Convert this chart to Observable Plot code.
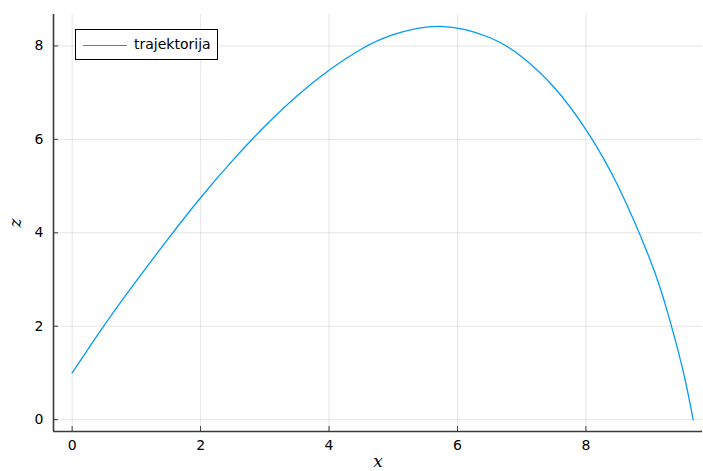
<!DOCTYPE html>
<html>
<head>
<meta charset="utf-8">
<script src="https://cdn.jsdelivr.net/npm/d3@7"></script>
<script src="https://cdn.jsdelivr.net/npm/@observablehq/plot@0.6"></script>
<style>
  html, body { margin: 0; padding: 0; background: #fff; }
  #wrap { position: relative; width: 703px; height: 471px; font-family: "DejaVu Sans", sans-serif; }
  #wrap svg text { font-family: "DejaVu Sans", sans-serif; }
  #legend {
    position: absolute; left: 75px; top: 29px; width: 141px; height: 29px;
    border: 1.2px solid #000; background: #fff; box-sizing: content-box;
  }
  #legend .swatch { position: absolute; left: 7px; top: 15px; width: 44px; height: 0; border-top: 1.5px solid #009AFA; }
  #legend .lbl { position: absolute; left: 58px; top: 5px; font-size: 14px; color: #000; line-height: 18px; }
</style>
</head>
<body>
<div id="wrap"></div>
<script>
// Trajectory data
const xs = [0, 0.5, 1.0, 1.5, 2.0, 2.5, 3.0, 3.5, 4.0, 4.5, 5.0, 5.74, 6.5, 7.0, 7.5, 8.0, 8.5, 9.0, 9.25, 9.5, 9.67];
const zs = [1, 2.02, 2.97, 3.88, 4.75, 5.55, 6.28, 6.93, 7.48, 7.93, 8.24, 8.42, 8.18, 7.77, 7.12, 6.21, 5.0, 3.42, 2.40, 1.12, 0];
const xTicks = [0, 2, 4, 6, 8];
const yTicks = [0, 2, 4, 6, 8];
const seriesName = "trajektorija";
const xLabel = "x";
const yLabel = "z";

const data = xs.map((x, i) => ({x, z: zs[i]}));

const xMin = d3.min(xs), xMax = d3.max(xs), xSpan = xMax - xMin;
const zMin = d3.min(zs), zMax = d3.max(zs), zSpan = zMax - zMin;
const xDomain = [xMin - 0.03 * xSpan, xMax + 0.015 * xSpan];
const yDomain = [zMin - 0.03 * zSpan, zMax + 0.03 * zSpan];

const color = "#009AFA";
const axisColor = "#3a3a3a";

const chart = Plot.plot({
  width: 703,
  height: 471,
  marginLeft: 53,
  marginRight: 1,
  marginTop: 14,
  marginBottom: 40,
  style: {fontSize: "14px", fontFamily: "DejaVu Sans, sans-serif", color: "#000", background: "#fff"},
  x: {domain: xDomain},
  y: {domain: yDomain},
  marks: [
    Plot.gridX(xTicks, {stroke: "#000", strokeOpacity: 0.1, strokeWidth: 1}),
    Plot.gridY(yTicks, {stroke: "#000", strokeOpacity: 0.1, strokeWidth: 1}),
    Plot.axisX({ticks: xTicks, tickSize: -5, tickPadding: 14, stroke: axisColor, label: xLabel, labelArrow: "none", labelAnchor: "center", labelOffset: 35, fontSize: 14}),
    Plot.axisY({ticks: yTicks, tickSize: -5, tickPadding: 15, stroke: axisColor, label: yLabel, labelArrow: "none", labelAnchor: "center", labelOffset: 45, fontSize: 14}),
    Plot.ruleX([xDomain[0]], {stroke: axisColor, strokeWidth: 1.6}),
    Plot.ruleY([yDomain[0]], {stroke: axisColor, strokeWidth: 1.6}),
    Plot.line(data, {x: "x", y: "z", stroke: color, strokeWidth: 1.3, curve: "natural"})
  ]
});

const wrap = document.getElementById("wrap");
wrap.appendChild(chart);

// style axis labels like LaTeX math italic, without arrows
d3.select(chart).selectAll('g[aria-label="x-axis label"] text')
  .text(xLabel);
d3.select(chart).selectAll('g[aria-label="y-axis label"] text')
  .text(yLabel);
d3.select(chart).selectAll('g[aria-label="x-axis label"] text, g[aria-label="y-axis label"] text')
  .style("font-family", "'DejaVu Serif', serif")
  .style("font-style", "italic")
  .style("font-size", "17px");

const legend = document.createElement("div");
legend.id = "legend";
legend.innerHTML = '<div class="swatch"></div><div class="lbl"></div>';
legend.querySelector(".lbl").textContent = seriesName;
wrap.appendChild(legend);
</script>
</body>
</html>
